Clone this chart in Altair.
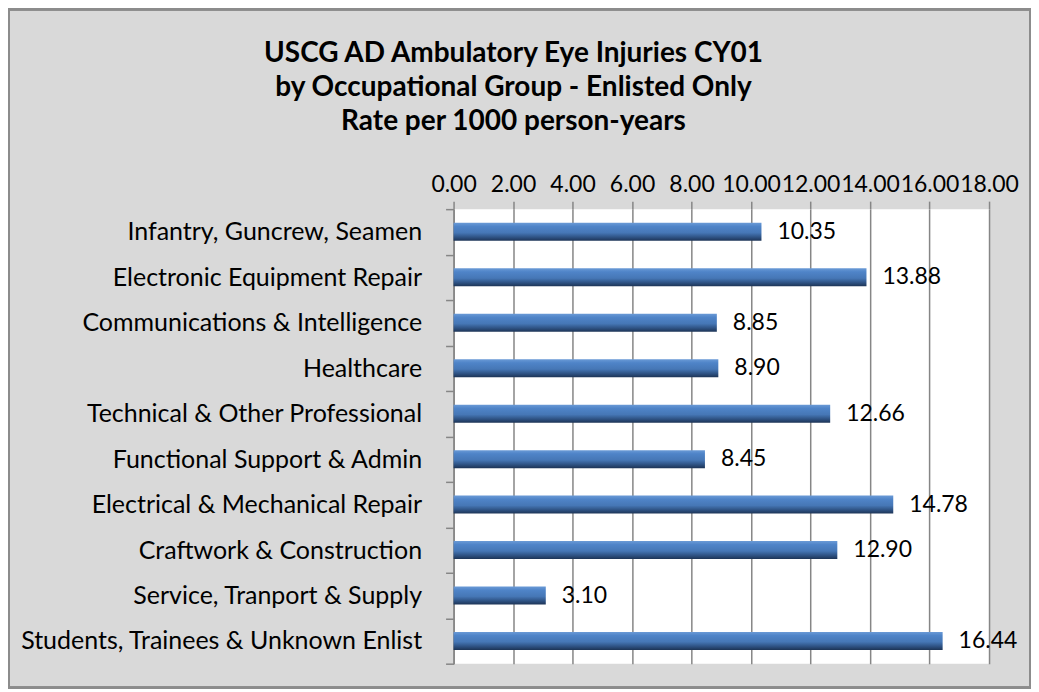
import altair as alt
import pandas as pd

categories = [
    "Infantry, Guncrew, Seamen",
    "Electronic Equipment Repair",
    "Communications & Intelligence",
    "Healthcare",
    "Technical & Other Professional",
    "Functional Support & Admin",
    "Electrical & Mechanical Repair",
    "Craftwork & Construction",
    "Service, Tranport & Supply",
    "Students, Trainees & Unknown Enlist",
]
rates = [10.35, 13.88, 8.85, 8.90, 12.66, 8.45, 14.78, 12.90, 3.10, 16.44]
x_ticks = [0, 2, 4, 6, 8, 10, 12, 14, 16, 18]
title_lines = [
    "USCG AD Ambulatory Eye Injuries CY01",
    "by Occupational Group - Enlisted Only",
    "Rate per 1000 person-years",
]

df = pd.DataFrame({"category": categories, "rate": rates})
title_df = pd.DataFrame({"t": ["\n".join(title_lines)]})

FONT = "Lato"
W, H = 536, 455
GRID = "#868686"

grad = alt.Gradient(
    gradient="linear",
    x1=0, x2=0, y1=0, y2=1,
    stops=[
        alt.GradientStop(color="#6a9ad6", offset=0),
        alt.GradientStop(color="#4f84c8", offset=0.2),
        alt.GradientStop(color="#4677b6", offset=0.55),
        alt.GradientStop(color="#2e5283", offset=0.8),
        alt.GradientStop(color="#1d3456", offset=1),
    ],
)

y_enc = alt.Y(
    "category:N",
    sort=None,
    title=None,
    scale=alt.Scale(paddingInner=0, paddingOuter=0),
    axis=alt.Axis(
        tickBand="extent",
        grid=False,
        domain=True,
        domainColor=GRID,
        domainWidth=1.5,
        ticks=True,
        tickColor=GRID,
        tickWidth=1.5,
        tickSize=8,
        labelPadding=24,
        labelFont=FONT,
        labelFontSize=25,
        labelColor="#000000",
        labelLimit=600,
    ),
)

x_enc = alt.X(
    "rate:Q",
    title=None,
    scale=alt.Scale(domain=[0, 18], nice=False),
    axis=alt.Axis(
        orient="top",
        values=x_ticks,
        format=".2f",
        domain=False,
        grid=True,
        gridColor=GRID,
        gridWidth=1.5,
        ticks=True,
        tickColor=GRID,
        tickWidth=1.5,
        tickSize=8,
        labelPadding=5,
        labelFont=FONT,
        labelFontSize=23,
        labelColor="#000000",
        labelOverlap=False,
        labelFlush=False,
        labelBound=False,
    ),
)

bars = alt.Chart(df).mark_bar(color=grad, size=18).encode(x=x_enc, y=y_enc)

labels = alt.Chart(df).mark_text(
    align="left", baseline="middle", dx=16, font=FONT, fontSize=23, color="#000000"
).encode(
    x=alt.X("rate:Q"),
    y=alt.Y("category:N", sort=None),
    text=alt.Text("rate:Q", format=".2f"),
)

title = alt.Chart(title_df).mark_text(
    align="center", baseline="middle", lineBreak="\n", lineHeight=34,
    font=FONT, fontSize=28, fontWeight="bold", color="#000000",
).encode(
    x=alt.value(60), y=alt.value(-155), text="t:N",
)

frame = alt.Chart(df).mark_rect(
    fill=None, stroke="#8c8c8c", strokeWidth=2
).encode(
    x=alt.value(-445), x2=alt.value(W + 41),
    y=alt.value(-200), y2=alt.value(H + 24),
)

chart = (
    alt.layer(bars, labels, title, frame)
    .properties(
        width=W,
        height=H,
        background="#d9d9d9",
        padding={"left": 446, "top": 201, "right": 42, "bottom": 25},
        autosize=alt.AutoSizeParams(type="none"),
    )
    .configure_view(fill="#ffffff", stroke=None)
)

chart.save("out.html", embed_options={"renderer": "svg", "actions": False})
